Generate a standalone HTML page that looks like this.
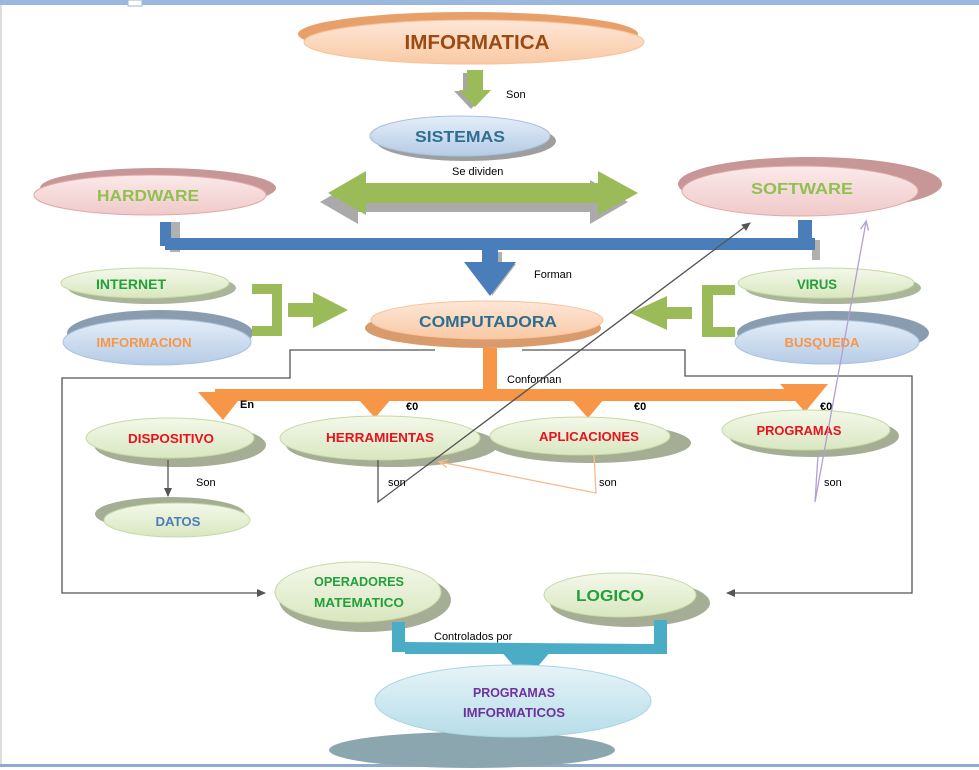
<!DOCTYPE html>
<html><head><meta charset="utf-8"><style>
html,body{margin:0;padding:0;background:#fff;width:979px;height:770px;overflow:hidden}
svg{display:block}
text{font-family:"Liberation Sans",sans-serif}
.t{font-weight:bold;text-anchor:middle}
.s{font-size:11px;fill:#000}
</style></head><body>
<svg width="979" height="770" viewBox="0 0 979 770">
<defs>
<linearGradient id="or" x1="0" y1="0" x2="0" y2="1"><stop offset="0" stop-color="#fde7d8"/><stop offset="1" stop-color="#f9c9a4"/></linearGradient>
<linearGradient id="bl" x1="0" y1="0" x2="0" y2="1"><stop offset="0" stop-color="#e4eef8"/><stop offset="1" stop-color="#b5cbe6"/></linearGradient>
<linearGradient id="pk" x1="0" y1="0" x2="0" y2="1"><stop offset="0" stop-color="#fbeaea"/><stop offset="1" stop-color="#f0c9c9"/></linearGradient>
<linearGradient id="gr" x1="0" y1="0" x2="0" y2="1"><stop offset="0" stop-color="#f4f8ea"/><stop offset="1" stop-color="#d9e7c0"/></linearGradient>
<linearGradient id="cy" x1="0" y1="0" x2="0" y2="1"><stop offset="0" stop-color="#e6f4f8"/><stop offset="1" stop-color="#b6dde8"/></linearGradient>
<marker id="ag" markerWidth="10" markerHeight="10" refX="8" refY="5" orient="auto" markerUnits="userSpaceOnUse"><path d="M0,1 L9,5 L0,9 z" fill="#555"/></marker>
<marker id="ao" markerWidth="12" markerHeight="10" refX="8" refY="5" orient="auto" markerUnits="userSpaceOnUse"><path d="M0,1 L9,5 L0,9" fill="none" stroke="#f9b98a" stroke-width="1.3"/></marker>
<marker id="ap" markerWidth="12" markerHeight="10" refX="8" refY="5" orient="auto" markerUnits="userSpaceOnUse"><path d="M0,1 L9,5 L0,9" fill="none" stroke="#b3a0cf" stroke-width="1.3"/></marker>
</defs>
<!-- frame -->
<rect x="0" y="0" width="979" height="5" fill="#9ab7dd"/>
<rect x="128" y="0" width="14" height="6" fill="#fff" stroke="#9ab7dd"/>
<rect x="0" y="764" width="979" height="3" fill="#8faad0"/>
<line x1="1" y1="5" x2="1" y2="764" stroke="#bbb"/>

<!-- IMFORMATICA -->
<ellipse cx="468" cy="34" rx="170" ry="22" fill="#e8a06a"/>
<ellipse cx="474" cy="42" rx="170" ry="22" fill="url(#or)" stroke="#f7c39a"/>
<text x="477" y="49" class="t" font-size="20" fill="#9b4a14" textLength="145" lengthAdjust="spacingAndGlyphs">IMFORMATICA</text>
<!-- green down arrow -->
<path d="M463,73 h16 v18 h9 l-17,18 l-17,-18 h9z" fill="#a6a6a6"/>
<path d="M467,70 h16 v20 h8 l-16,17 l-16,-17 h8z" fill="#9bbb59"/>
<text x="506" y="98" class="s" font-size="10">Son</text>
<!-- SISTEMAS -->
<ellipse cx="466" cy="141" rx="90" ry="20" fill="#9e9e9e"/>
<ellipse cx="460" cy="136" rx="90" ry="20" fill="url(#bl)" stroke="#a9c0de"/>
<text x="460" y="142" class="t" font-size="16" fill="#2e6e8e" textLength="90" lengthAdjust="spacingAndGlyphs">SISTEMAS</text>
<text x="452" y="175" class="s" font-size="10">Se dividen</text>
<!-- double arrow -->
<path d="M320,202 l38,-22 v12 h232 v-12 l38,22 l-38,22 v-12 h-232 v12z" fill="#aaa"/>
<path d="M328,193 l38,-22 v12 h232 v-12 l40,22 l-40,22 v-12 h-232 v12z" fill="#9bbb59"/>
<!-- HARDWARE -->
<ellipse cx="158" cy="188" rx="118" ry="20" fill="#c79696"/>
<ellipse cx="150" cy="195" rx="116" ry="20" fill="url(#pk)" stroke="#e4a6a6"/>
<text x="148" y="201" class="t" font-size="16" fill="#92c050" textLength="102" lengthAdjust="spacingAndGlyphs">HARDWARE</text>
<!-- SOFTWARE -->
<ellipse cx="810" cy="184" rx="132" ry="27" fill="#c79696"/>
<ellipse cx="800" cy="191" rx="118" ry="25" fill="url(#pk)" stroke="#e4a6a6"/>
<text x="802" y="194" class="t" font-size="16" fill="#92c050" textLength="102" lengthAdjust="spacingAndGlyphs">SOFTWARE</text>
<!-- blue bracket -->
<path d="M170,222 h10 v18 h640 v20 h-8 v-12 h-632 v4 h-10z" fill="#b0b0b0"/>
<rect x="160" y="222" width="11" height="24" fill="#4a7ebb"/>
<rect x="165" y="238" width="650" height="12" fill="#4a7ebb"/>
<rect x="798" y="220" width="14" height="30" fill="#4a7ebb"/>
<path d="M490,252 h12 v12 h14 l-24,32z" fill="#b0b0b0"/>
<path d="M482,250 h16 v12 h18 l-26,34 l-26,-34 h18z" fill="#4a7ebb"/>
<text x="534" y="278" class="s" font-size="10">Forman</text>
<!-- INTERNET / INFORMACION -->
<ellipse cx="152" cy="288" rx="84" ry="16" fill="#aab59a"/>
<ellipse cx="145" cy="283" rx="84" ry="15" fill="url(#gr)" stroke="#c6d9a4"/>
<text x="131" y="289" class="t" font-size="14" fill="#22a03a" textLength="70" lengthAdjust="spacingAndGlyphs">INTERNET</text>
<ellipse cx="160" cy="333" rx="93" ry="23" fill="#8a9cb0"/>
<ellipse cx="157" cy="342" rx="94" ry="23" fill="url(#bl)" stroke="#a9c0de"/>
<text x="144" y="347" class="t" font-size="13" fill="#f79646" textLength="95" lengthAdjust="spacingAndGlyphs">IMFORMACION</text>
<path d="M252,284 h30 v52 h-30 v-10 h20 v-32 h-20z" fill="#9bbb59"/>
<path d="M288,303 h25 v-11 l35,18 l-35,18 v-11 h-25z" fill="#9bbb59"/>
<!-- COMPUTADORA -->
<ellipse cx="483" cy="328" rx="118" ry="20" fill="#d99a6c"/>
<ellipse cx="487" cy="320" rx="116" ry="19" fill="url(#or)" stroke="#f7c39a"/>
<text x="488" y="327" class="t" font-size="16" fill="#2e6e8e" textLength="138" lengthAdjust="spacingAndGlyphs">COMPUTADORA</text>
<!-- VIRUS / BUSQUEDA -->
<ellipse cx="833" cy="288" rx="88" ry="16" fill="#aab59a"/>
<ellipse cx="826" cy="283" rx="88" ry="15" fill="url(#gr)" stroke="#c6d9a4"/>
<text x="817" y="289" class="t" font-size="14" fill="#22a03a" textLength="40" lengthAdjust="spacingAndGlyphs">VIRUS</text>
<ellipse cx="833" cy="333" rx="96" ry="22" fill="#8a9cb0"/>
<ellipse cx="827" cy="342" rx="92" ry="22" fill="url(#bl)" stroke="#a9c0de"/>
<text x="822" y="347" class="t" font-size="13" fill="#f79646" textLength="75" lengthAdjust="spacingAndGlyphs">BUSQUEDA</text>
<path d="M735,285 h-33 v52 h33 v-10 h-22 v-32 h22z" fill="#9bbb59"/>
<path d="M692,307 h-25 v-11 l-37,17 l37,17 v-11 h25z" fill="#9bbb59"/>
<!-- gray connectors -->
<polyline points="435,350 290,350 290,378 62,378 62,593 265,593" fill="none" stroke="#555" stroke-width="1.3" marker-end="url(#ag)"/>
<polyline points="522,350 685,350 685,376 912,376 912,593 727,593" fill="none" stroke="#555" stroke-width="1.3" marker-end="url(#ag)"/>
<!-- orange tree -->
<rect x="483" y="348" width="14" height="44" fill="#f79646"/>
<rect x="215" y="389" width="595" height="12" fill="#f79646"/>
<path d="M198,392 h47 l-22,28z" fill="#f79646"/>
<path d="M352,392 h45 l-22,26z" fill="#f79646"/>
<path d="M565,392 h45 l-22,26z" fill="#f79646"/>
<path d="M780,384 h48 l-23,28z" fill="#f79646"/>
<text x="507" y="383" class="s" font-size="10">Conforman</text>
<text x="240" y="408" class="s" font-size="10" font-weight="bold">En</text>
<text x="406" y="410" class="s" font-size="10" font-weight="bold" fill="#c00">€0</text>
<text x="634" y="410" class="s" font-size="10" font-weight="bold" fill="#c00">€0</text>
<text x="820" y="410" class="s" font-size="10" font-weight="bold" fill="#c00">€0</text>
<!-- level 3 -->
<ellipse cx="180" cy="445" rx="86" ry="22" fill="#a5ad94"/>
<ellipse cx="170" cy="438" rx="84" ry="20" fill="url(#gr)" stroke="#c6d9a4"/>
<text x="171" y="443" class="t" font-size="13" fill="#e8121e" textLength="86" lengthAdjust="spacingAndGlyphs">DISPOSITIVO</text>
<ellipse cx="392" cy="445" rx="106" ry="22" fill="#a5ad94"/>
<ellipse cx="380" cy="438" rx="100" ry="22" fill="url(#gr)" stroke="#c6d9a4"/>
<text x="380" y="442" class="t" font-size="13" fill="#e8121e" textLength="108" lengthAdjust="spacingAndGlyphs">HERRAMIENTAS</text>
<ellipse cx="590" cy="443" rx="101" ry="20" fill="#a5ad94"/>
<ellipse cx="580" cy="436" rx="90" ry="19" fill="url(#gr)" stroke="#c6d9a4"/>
<text x="589" y="441" class="t" font-size="13" fill="#e8121e" textLength="100" lengthAdjust="spacingAndGlyphs">APLICACIONES</text>
<ellipse cx="814" cy="436" rx="85" ry="21" fill="#a5ad94"/>
<ellipse cx="806" cy="430" rx="84" ry="20" fill="url(#gr)" stroke="#c6d9a4"/>
<text x="799" y="435" class="t" font-size="13" fill="#e8121e" textLength="85" lengthAdjust="spacingAndGlyphs">PROGRAMAS</text>
<!-- DATOS -->
<line x1="168" y1="460" x2="168" y2="496" stroke="#555" stroke-width="1.3" marker-end="url(#ag)"/>
<text x="196" y="486" class="s" font-size="10">Son</text>
<ellipse cx="170" cy="514" rx="75" ry="17" fill="#a5ad94"/>
<ellipse cx="177" cy="520" rx="73" ry="17" fill="url(#gr)" stroke="#c6d9a4"/>
<text x="178" y="526" class="t" font-size="13" fill="#4a7ebb" textLength="45" lengthAdjust="spacingAndGlyphs">DATOS</text>
<!-- cross lines -->
<polyline points="378,460 378,502 750,223" fill="none" stroke="#555" stroke-width="1.3" marker-end="url(#ag)"/>
<text x="388" y="486" class="s" font-size="10">son</text>
<polyline points="594,455 596,493 440,462" fill="none" stroke="#f9b98a" stroke-width="1.3" marker-end="url(#ao)"/>
<text x="599" y="486" class="s" font-size="10">son</text>
<polyline points="818,455 815,502 866,222" fill="none" stroke="#b3a0cf" stroke-width="1.3" marker-end="url(#ap)"/>
<text x="824" y="486" class="s" font-size="10">son</text>
<!-- bottom -->
<ellipse cx="365" cy="600" rx="86" ry="32" fill="#a5ad94"/>
<ellipse cx="358" cy="592" rx="83" ry="30" fill="url(#gr)" stroke="#c6d9a4"/>
<text x="359" y="586" class="t" font-size="13" fill="#22a03a" textLength="90" lengthAdjust="spacingAndGlyphs">OPERADORES</text>
<text x="359" y="607" class="t" font-size="13" fill="#22a03a" textLength="90" lengthAdjust="spacingAndGlyphs">MATEMATICO</text>
<ellipse cx="630" cy="603" rx="80" ry="24" fill="#a5ad94"/>
<ellipse cx="620" cy="595" rx="76" ry="22" fill="url(#gr)" stroke="#c6d9a4"/>
<text x="610" y="601" class="t" font-size="16" fill="#22a03a" textLength="68" lengthAdjust="spacingAndGlyphs">LOGICO</text>
<rect x="392" y="622" width="13" height="30" fill="#4bacc6"/>
<path d="M405,642 L655,644 V654 L405,654z" fill="#4bacc6"/>
<rect x="654" y="620" width="13" height="34" fill="#4bacc6"/>
<path d="M500,650 h52 l-26,30z" fill="#4bacc6"/>
<text x="434" y="640" class="s" font-size="10">Controlados por</text>
<ellipse cx="472" cy="750" rx="143" ry="18" fill="#8ba6ae"/>
<ellipse cx="513" cy="701" rx="138" ry="36" fill="url(#cy)" stroke="#a9d5e0"/>
<text x="514" y="697" class="t" font-size="13" fill="#7030a0" textLength="82" lengthAdjust="spacingAndGlyphs">PROGRAMAS</text>
<text x="514" y="717" class="t" font-size="13" fill="#7030a0" textLength="102" lengthAdjust="spacingAndGlyphs">IMFORMATICOS</text>
</svg>
</body></html>
